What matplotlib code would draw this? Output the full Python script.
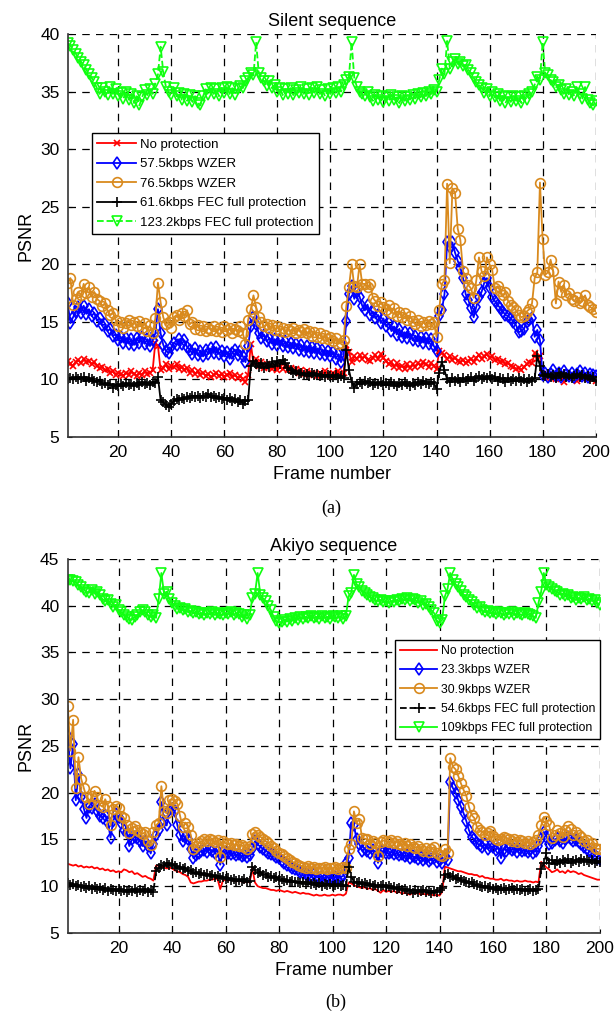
import matplotlib
matplotlib.use('Agg')
import matplotlib.pyplot as plt

plt.rcParams['font.family'] = ['Liberation Sans', 'DejaVu Sans']

frames = list(range(1, 201))

# Silent sequence
s_green = [39.2, 39.0, 38.6, 38.3, 37.9, 37.6, 37.3, 36.9, 36.5, 36.2,
           35.8, 35.3, 34.8, 35.3, 35.0, 34.7, 35.4, 34.8, 35.2, 34.6,
           34.9, 34.4, 35.0, 34.3, 34.8, 34.0, 34.6, 33.8, 34.5, 35.1,
           34.7, 35.2, 34.8, 35.7, 36.5, 38.9, 36.7, 35.4, 35.0, 34.7,
           35.3, 34.6, 34.9, 34.3, 34.8, 34.2, 34.7, 34.1, 34.6, 34.0,
           33.8, 34.6, 35.2, 34.7, 35.3, 34.8, 35.2, 34.6, 35.3, 34.9,
           35.4, 34.8, 35.3, 34.7, 35.2, 35.5, 35.3, 35.9, 36.2, 36.6,
           36.4, 39.3, 36.6, 36.2, 35.9, 35.5, 35.9, 35.3, 35.6, 35.0,
           35.3, 34.7, 35.2, 34.8, 35.3, 34.7, 35.1, 34.9, 35.4, 34.8,
           35.2, 34.7, 35.3, 34.9, 35.4, 34.8, 35.1, 34.6, 35.2, 34.8,
           35.3, 34.9, 35.4, 35.0, 35.6, 36.0, 36.3, 39.3, 36.2, 35.4,
           35.0, 34.8, 34.6, 35.0, 34.5, 34.2, 34.7, 34.3, 34.6, 34.1,
           34.5, 34.2, 34.7, 34.3, 34.5, 34.0, 34.6, 34.2, 34.5, 34.3,
           34.7, 34.4, 34.8, 34.5, 34.9, 34.6, 35.0, 34.8, 35.1, 35.0,
           36.0, 37.0, 36.5, 39.4, 37.0, 37.6, 37.8, 37.4, 37.6, 37.2,
           37.3, 36.9, 36.6, 36.2, 35.8, 35.6, 35.3, 34.9, 35.2, 34.6,
           35.0, 34.5, 34.8, 34.2, 34.6, 34.0, 34.5, 34.1, 34.6, 34.2,
           34.5, 34.0, 34.6, 34.3, 34.8, 35.0, 35.6, 36.3, 36.0, 39.3,
           36.6, 36.4, 36.0, 35.8, 35.4, 35.6, 35.1, 34.8, 35.2, 34.7,
           35.0, 34.6, 35.4, 34.8, 34.4, 35.4, 34.3, 34.0, 33.8, 34.2]

s_orange = [18.4, 18.8, 16.5, 17.0, 17.6, 17.3, 18.3, 17.5, 18.0, 17.2,
            17.6, 17.0, 16.8, 16.4, 16.6, 16.0, 15.6, 15.8, 15.2, 14.6,
            15.0, 14.5, 14.9, 15.2, 14.7, 15.0, 14.6, 15.1, 14.5, 14.9,
            14.2, 14.7, 14.0, 15.3, 18.4, 16.7, 15.4, 14.8, 15.0, 14.5,
            15.4, 15.6, 15.2, 15.8, 15.5, 16.0, 14.8, 15.0, 14.4, 14.7,
            14.3, 14.6, 14.2, 14.5, 14.3, 14.6, 14.2, 14.5, 14.1, 14.6,
            14.3, 14.5, 14.0, 14.4, 14.2, 14.6, 14.0, 13.1, 15.2, 16.1,
            17.3, 16.3, 15.4, 15.0, 14.6, 14.8, 14.5, 14.7, 14.3, 14.6,
            14.2, 14.5, 14.1, 14.4, 14.2, 14.5, 14.0, 14.3, 14.1, 14.4,
            14.0, 14.2, 13.8, 14.1, 13.7, 14.0, 13.6, 13.9, 13.5, 13.7,
            13.3, 13.6, 13.1, 13.2, 13.4, 16.4, 18.0, 20.0, 18.1, 18.0,
            20.0, 18.3, 18.3, 18.0, 18.3, 17.1, 16.8, 16.4, 16.7, 16.3,
            16.0, 16.5, 15.8, 16.2, 15.5, 15.9, 15.4, 15.8, 15.2, 15.5,
            15.1, 14.8, 15.2, 14.6, 15.0, 14.7, 15.1, 14.8, 15.0, 13.7,
            16.0, 18.3, 18.6, 27.0, 20.1, 26.6, 26.2, 23.1, 22.1, 19.4,
            18.8, 18.2, 17.9, 17.1, 18.6, 20.6, 19.4, 19.0, 20.6, 20.0,
            19.5, 17.9, 18.1, 17.7, 17.3, 17.6, 16.8, 16.5, 16.3, 16.0,
            15.6, 15.4, 15.5, 15.9, 16.1, 16.6, 18.8, 19.3, 27.1, 22.2,
            19.1, 19.3, 20.4, 19.4, 16.6, 18.5, 17.6, 18.2, 17.3, 17.5,
            17.0, 16.8, 17.2, 16.6, 16.8, 17.3, 16.5, 16.3, 16.1, 15.9]

s_blue = [16.6, 14.9, 15.4, 15.9, 16.3, 15.8, 16.4, 15.7, 16.1, 15.5,
          15.8, 15.1, 15.3, 14.7, 14.8, 14.2, 14.4, 13.8, 13.9, 13.4,
          13.7, 13.2, 13.6, 13.1, 13.5, 13.0, 13.6, 13.2, 13.7, 13.1,
          13.5, 12.9, 13.4, 14.0, 16.1, 14.0, 13.0, 12.5, 12.3, 12.8,
          13.2, 13.0, 13.5, 13.1, 13.4, 12.8, 12.6, 12.2, 12.7, 12.1,
          12.5, 12.0, 12.6, 12.2, 12.7, 12.3, 12.8, 12.2, 12.5, 12.0,
          12.4, 11.8, 12.3, 12.6, 12.1, 12.5, 12.0, 11.5, 12.9, 14.6,
          15.4, 14.8, 14.0, 13.6, 13.9, 13.3, 13.6, 13.1, 13.5, 13.0,
          13.4, 12.9, 13.3, 12.8, 13.2, 12.7, 13.1, 12.6, 13.0, 12.5,
          12.9, 12.4, 12.8, 12.3, 12.7, 12.2, 12.6, 12.1, 12.5, 12.0,
          12.4, 11.8, 12.2, 11.5, 12.1, 15.1, 17.4, 18.1, 17.0, 17.6,
          17.2, 16.4, 16.0, 16.5, 15.6, 15.9, 15.3, 15.6, 14.9, 15.3,
          14.6, 14.9, 14.2, 14.6, 13.9, 14.4, 13.7, 14.1, 13.6, 14.0,
          13.4, 13.8, 13.3, 13.7, 13.2, 13.6, 13.1, 13.5, 12.9, 12.5,
          15.5, 16.0, 17.4, 21.9, 21.5, 21.9, 21.0, 20.3, 19.7, 18.8,
          17.4, 16.9, 16.2, 15.4, 16.3, 17.2, 17.6, 18.4, 18.8, 17.9,
          17.2, 16.8, 16.5, 16.2, 15.9, 15.6, 15.5, 15.3, 15.0, 14.7,
          14.1, 14.2, 14.4, 15.0, 15.2, 15.3, 13.7, 14.3, 13.4, 10.4,
          10.6, 10.2, 10.5, 10.8, 10.3, 10.6, 10.2, 10.7, 10.4, 10.3,
          10.6, 10.2, 10.5, 10.7, 10.3, 10.6, 10.2, 10.5, 10.4, 10.3]

s_red = [11.6, 11.3, 11.2, 11.5, 11.7, 11.4, 11.8, 11.5, 11.6, 11.3,
         11.5, 11.2, 11.0, 11.1, 10.8, 10.9, 10.6, 10.7, 10.4, 10.6,
         10.5, 10.3, 10.6, 10.4, 10.7, 10.5, 10.3, 10.6, 10.4, 10.7,
         10.5, 10.6, 10.8, 13.2, 12.9, 10.8, 11.0, 11.3, 10.9, 11.2,
         11.1, 11.3, 10.9, 11.1, 10.8, 11.0, 10.6, 10.8, 10.5, 10.7,
         10.4, 10.6, 10.3, 10.5, 10.2, 10.4, 10.6, 10.3, 10.5, 10.2,
         10.4, 10.6, 10.2, 10.4, 10.1, 10.3, 10.0, 9.8, 10.4, 13.1,
         11.4, 11.8, 11.2, 11.5, 11.0, 11.3, 11.1, 10.9, 11.2, 10.8,
         11.1, 10.9, 11.2, 10.8, 11.0, 10.7, 10.9, 10.6, 10.8, 10.5,
         10.7, 10.4, 10.6, 10.5, 10.3, 10.6, 10.4, 10.7, 10.5, 10.3,
         10.6, 10.4, 10.7, 10.4, 10.6, 13.0, 12.4, 11.5, 12.0, 11.8,
         12.1, 11.8, 12.0, 11.7, 11.6, 11.9, 12.1, 11.8, 12.2, 11.9,
         11.6, 11.3, 11.5, 11.1, 11.4, 11.0, 11.2, 10.9, 11.3, 11.0,
         11.3, 11.1, 11.4, 11.2, 11.5, 11.3, 11.1, 11.4, 11.2, 10.9,
         12.5, 12.3, 12.1, 11.8, 12.0, 11.7, 11.9, 11.6, 11.5, 11.7,
         11.4, 11.6, 11.8, 11.5, 11.9, 12.1, 11.8, 12.0, 12.2, 11.9,
         12.0, 11.7, 11.8, 11.5, 11.6, 11.3, 11.4, 11.2, 11.1, 10.9,
         11.0, 10.8, 11.1, 11.3, 11.5, 11.4, 12.3, 11.8, 12.0, 10.5,
         10.2, 10.4, 10.1, 10.3, 10.0, 10.4, 10.2, 9.8, 10.3, 10.1,
         10.4, 10.2, 9.9, 10.3, 10.1, 10.4, 10.0, 10.2, 10.1, 9.9]

s_black = [10.0, 10.1, 10.0, 10.2, 10.0, 10.1, 10.2, 9.9, 10.1, 10.0,
           9.9, 9.8, 9.9, 9.6, 9.7, 9.5, 9.6, 9.3, 9.5, 9.4,
           9.6, 9.4, 9.7, 9.5, 9.6, 9.4, 9.7, 9.5, 9.8, 9.6,
           9.7, 9.5, 9.8, 9.7, 10.2, 8.2, 8.0, 7.8, 7.6, 7.9,
           8.1, 8.3, 8.2, 8.4, 8.3, 8.5, 8.4, 8.6, 8.5, 8.6,
           8.4, 8.6, 8.5, 8.7, 8.5, 8.6, 8.4, 8.5, 8.3, 8.4,
           8.2, 8.4, 8.1, 8.3, 8.0, 8.2, 7.9, 8.1, 8.2, 11.2,
           11.6, 11.3, 11.1, 11.4, 11.0, 11.3, 11.1, 11.5, 11.2, 11.6,
           11.3, 11.7, 11.4, 11.0, 10.8, 10.6, 10.7, 10.5, 10.6, 10.4,
           10.5, 10.3, 10.6, 10.4, 10.5, 10.3, 10.4, 10.2, 10.4, 10.3,
           10.2, 10.4, 10.1, 10.3, 10.1, 12.6, 10.8, 9.8, 9.3, 9.6,
           9.8, 9.6, 9.9, 9.7, 9.8, 9.5, 9.7, 9.6, 9.8, 9.5,
           9.7, 9.5, 9.8, 9.6, 9.4, 9.7, 9.5, 9.8, 9.6, 9.4,
           9.7, 9.5, 9.8, 9.6, 9.9, 9.7, 9.6, 9.8, 9.7, 9.2,
           10.6, 11.5, 10.8, 10.0, 9.8, 10.1, 9.9, 10.0, 9.8, 10.1,
           9.9, 10.0, 10.2, 9.9, 10.1, 10.3, 10.0, 10.2, 10.1, 10.3,
           10.0, 10.2, 9.9, 10.1, 10.0, 9.8, 10.1, 9.9, 10.0, 9.9,
           10.1, 9.9, 10.0, 9.8, 10.0, 9.9, 10.1, 12.0, 11.2, 10.4,
           10.3, 10.5, 10.2, 10.4, 10.1, 10.6, 10.3, 10.5, 10.2, 10.4,
           10.1, 10.3, 10.5, 10.2, 10.4, 10.1, 10.3, 10.0, 10.2, 9.9]

# Akiyo sequence
a_green = [42.8, 42.7, 42.6, 42.5, 42.2, 42.0, 41.7, 41.5, 41.4, 41.7,
           41.3, 41.5, 41.1, 40.7, 40.5, 40.6, 40.2, 39.9, 40.1, 39.5,
           39.3, 39.0, 38.8, 38.6, 38.5, 38.8, 39.0, 39.3, 39.5, 39.3,
           39.0, 38.8, 39.0, 38.7, 40.7, 43.5, 41.3, 41.5, 40.7, 40.3,
           40.0, 39.7, 39.8, 39.5, 39.6, 39.3, 39.4, 39.2, 39.3, 39.1,
           39.2, 39.0, 39.2, 39.1, 39.3, 39.0, 39.2, 39.1, 39.0, 39.2,
           39.1, 39.3, 39.0, 39.2, 39.1, 38.8, 39.0, 38.6, 39.0, 40.8,
           41.3, 43.5, 41.2, 40.8, 40.5, 40.0, 39.5, 38.8, 38.4, 38.2,
           38.3, 38.5, 38.3, 38.6, 38.4, 38.7, 38.5, 38.8, 38.6, 38.8,
           38.7, 38.9, 38.7, 38.8, 38.6, 38.9, 38.7, 38.8, 38.6, 38.9,
           38.8, 38.7, 38.9, 38.6, 38.9, 41.0, 41.4, 43.3, 42.3, 42.0,
           41.6, 41.4, 41.1, 40.9, 40.8, 40.6, 40.5, 40.6, 40.4, 40.5,
           40.3, 40.5, 40.4, 40.6, 40.5, 40.7, 40.6, 40.8, 40.5, 40.7,
           40.6, 40.3, 40.5, 40.1, 40.2, 39.9, 39.5, 39.2, 38.4, 38.2,
           38.5, 41.0, 41.8, 43.5, 42.8, 42.3, 42.0, 41.6, 41.2, 40.9,
           40.6, 40.4, 40.1, 39.8, 39.9, 39.5, 39.3, 39.4, 39.2, 39.3,
           39.1, 39.3, 39.2, 39.0, 39.2, 39.1, 39.3, 39.0, 39.2, 39.1,
           39.0, 39.2, 39.1, 39.0, 38.9, 38.7, 40.3, 41.5, 43.5, 42.2,
           42.0, 41.8, 41.6, 41.5, 41.2, 41.3, 41.0, 41.2, 40.8, 40.9,
           40.6, 40.8, 40.7, 40.9, 40.6, 40.7, 40.5, 40.6, 40.3, 40.1]

a_orange = [29.3, 24.5, 27.8, 20.5, 23.8, 21.5, 20.5, 19.5, 18.8, 19.6,
            20.2, 19.5, 18.7, 18.5, 19.3, 18.6, 16.5, 18.3, 18.6, 18.4,
            17.5, 17.3, 16.5, 15.7, 16.2, 16.4, 16.0, 15.8, 15.6, 15.8,
            14.8, 14.4, 15.8, 16.5, 16.8, 20.7, 18.0, 17.8, 19.2, 19.3,
            19.1, 18.8, 17.5, 16.3, 16.8, 16.3, 15.5, 14.0, 14.3, 14.6,
            14.8, 15.0, 14.8, 15.0, 14.9, 14.7, 14.9, 13.1, 14.8, 14.6,
            14.5, 14.6, 14.4, 14.5, 14.3, 14.4, 14.2, 14.0, 14.3, 15.6,
            15.8, 15.5, 15.3, 15.1, 14.8, 14.6, 14.3, 14.1, 13.8, 13.6,
            13.4, 13.2, 13.0, 12.8, 12.6, 12.5, 12.3, 12.2, 12.1, 12.0,
            12.2, 11.9, 12.1, 11.8, 12.0, 11.9, 12.1, 11.8, 12.0, 11.9,
            12.1, 11.8, 12.0, 12.1, 11.9, 14.0, 14.5, 18.0, 16.8, 17.2,
            15.2, 15.1, 15.0, 14.5, 14.8, 14.6, 13.2, 14.7, 14.9, 14.8,
            14.7, 14.9, 14.6, 14.8, 14.5, 14.4, 14.6, 14.3, 14.5, 14.2,
            14.1, 14.3, 14.0, 13.8, 14.1, 13.7, 14.0, 14.2, 13.6, 13.3,
            13.2, 14.0, 13.5, 23.7, 22.8, 22.5, 21.8, 21.0, 20.3, 19.7,
            18.5, 17.6, 17.3, 16.3, 16.0, 15.8, 15.5, 15.7, 15.9, 15.4,
            15.1, 14.9, 15.1, 15.3, 15.2, 15.0, 14.8, 15.0, 14.7, 14.9,
            14.8, 14.6, 14.8, 14.5, 14.7, 14.9, 15.5, 16.5, 17.4, 17.0,
            16.5, 15.2, 15.5, 16.0, 15.7, 15.3, 16.0, 16.4, 16.1, 15.5,
            15.8, 15.5, 15.3, 14.8, 14.9, 14.5, 14.6, 14.1, 14.0, 14.0]

a_blue = [26.1, 22.6, 25.2, 19.2, 22.0, 19.5, 18.3, 17.3, 18.5, 18.4,
          18.8, 18.0, 17.5, 17.3, 17.6, 16.8, 15.2, 17.0, 17.7, 17.4,
          16.8, 16.0, 15.8, 14.3, 15.0, 15.3, 15.2, 14.8, 14.3, 14.8,
          14.3, 13.5, 14.5, 15.5, 16.0, 19.0, 17.0, 16.5, 18.2, 18.3,
          18.0, 16.5, 15.5, 14.8, 15.3, 15.0, 14.0, 13.0, 13.3, 13.6,
          13.8, 13.9, 13.7, 14.0, 13.8, 13.6, 13.8, 12.3, 13.7, 13.5,
          13.6, 13.4, 13.5, 13.3, 13.4, 13.2, 13.3, 13.1, 13.3, 14.0,
          14.8, 14.5, 14.2, 14.0, 13.8, 13.6, 13.4, 13.3, 13.1, 13.0,
          12.7, 12.5, 12.3, 12.2, 12.0, 11.8, 11.7, 11.5, 11.4, 11.3,
          11.2, 11.1, 11.3, 11.0, 10.9, 11.1, 10.8, 11.0, 10.8, 10.9,
          11.0, 10.8, 11.0, 11.1, 12.5, 13.0, 16.8, 16.5, 15.0, 14.5,
          13.8, 14.0, 13.8, 13.6, 13.9, 13.7, 12.5, 13.8, 13.7, 13.6,
          13.5, 13.7, 13.4, 13.5, 13.3, 13.4, 13.2, 13.3, 13.0, 13.2,
          13.1, 12.9, 13.1, 12.8, 13.0, 12.7, 12.9, 13.0, 12.6, 12.8,
          12.5, 13.0, 12.8, 21.2, 20.5, 20.0, 19.2, 18.5, 17.8, 17.0,
          16.0, 15.3, 15.0, 14.6, 14.4, 14.2, 14.5, 14.0, 14.3, 14.2,
          13.9, 14.1, 13.0, 14.0, 13.8, 14.1, 13.9, 14.0, 13.7, 14.0,
          13.8, 13.9, 13.7, 13.9, 13.6, 13.8, 14.3, 15.0, 15.8, 15.3,
          14.5, 14.6, 14.9, 15.2, 14.8, 14.6, 15.0, 15.3, 15.0, 14.8,
          14.9, 14.7, 14.5, 14.2, 14.0, 13.8, 13.6, 13.3, 13.0, 12.9]

a_red = [12.4, 12.3, 12.2, 12.3, 12.1, 12.2, 12.0, 12.1, 12.0, 12.1,
         11.9, 12.0, 11.8, 11.9, 11.7, 11.8, 11.6, 11.7, 11.5, 11.6,
         11.5, 11.8, 11.7, 11.5, 11.6, 11.3, 11.4, 11.2, 11.0, 11.1,
         10.9, 10.8, 10.6, 12.2, 12.2, 12.1, 12.0, 11.9, 12.0, 11.9,
         11.7, 11.6, 11.5, 11.3, 11.2, 11.0, 10.4, 10.3, 10.4, 10.5,
         10.5, 10.6, 10.6, 10.7, 10.7, 10.8, 10.8, 9.7, 10.6, 10.7,
         10.6, 10.7, 10.6, 10.5, 10.6, 10.5, 10.4, 10.5, 10.4, 11.9,
         10.4, 10.0, 9.9, 9.8, 9.8, 9.7, 9.6, 9.6, 9.5, 9.6,
         9.5, 9.4, 9.5, 9.4, 9.3, 9.4, 9.3, 9.2, 9.3, 9.2,
         9.2, 9.1, 9.0, 9.1, 9.0, 9.0, 9.1, 9.0, 9.0, 9.1,
         9.0, 9.1, 9.1, 9.0, 9.2, 10.4, 10.3, 10.1, 10.0, 9.9,
         9.8, 9.9, 9.7, 9.8, 9.6, 9.7, 9.5, 9.3, 9.6, 9.4,
         9.5, 9.4, 9.5, 9.3, 9.4, 9.2, 9.3, 9.2, 9.1, 9.3,
         9.2, 9.3, 9.1, 9.2, 9.1, 9.2, 9.1, 9.0, 9.1, 9.0,
         9.4, 12.1, 12.0, 11.9, 11.8, 11.7, 11.6, 11.6, 11.5, 11.4,
         11.3, 11.3, 11.2, 11.2, 11.0, 11.1, 10.9, 10.9, 10.8, 10.8,
         10.7, 10.7, 10.8, 10.6, 10.7, 10.6, 10.6, 10.5, 10.6, 10.5,
         10.5, 10.6, 10.5, 10.5, 10.4, 10.5, 10.4, 12.6, 12.3, 12.0,
         11.8, 11.5, 11.6, 11.8, 11.5, 11.6, 11.4, 11.7, 11.5, 11.6,
         11.5, 11.3, 11.4, 11.2, 11.1, 11.0, 10.9, 10.8, 10.7, 10.7]

a_black = [10.3, 10.1, 10.2, 10.0, 10.1, 9.9, 10.0, 9.8, 10.0, 9.7,
           9.9, 9.7, 9.8, 9.6, 9.8, 9.5, 9.7, 9.6, 9.5, 9.7,
           9.5, 9.6, 9.4, 9.6, 9.5, 9.7, 9.4, 9.6, 9.5, 9.7,
           9.4, 9.6, 9.4, 11.6, 12.0, 12.3, 12.2, 12.5, 12.3, 12.4,
           12.2, 12.0, 12.1, 11.8, 11.9, 11.6, 11.7, 11.4, 11.5, 11.3,
           11.4, 11.2, 11.3, 11.1, 11.2, 11.0, 11.1, 10.9, 11.0, 10.8,
           10.9, 10.7, 10.8, 10.6, 10.7, 10.6, 10.8, 10.5, 10.6, 12.1,
           11.7, 11.4, 11.5, 11.2, 11.3, 11.0, 11.1, 10.9, 11.0, 10.7,
           10.8, 10.6, 10.7, 10.5, 10.6, 10.4, 10.5, 10.3, 10.5, 10.2,
           10.4, 10.2, 10.3, 10.1, 10.3, 10.0, 10.2, 10.1, 10.2, 10.0,
           10.1, 10.2, 10.0, 10.1, 10.0, 12.1, 11.0, 10.5, 10.3, 10.4,
           10.2, 10.3, 10.1, 10.2, 10.0, 10.1, 9.9, 10.0, 10.1, 9.9,
           10.0, 9.8, 9.9, 9.7, 9.8, 9.6, 9.7, 9.5, 9.6, 9.3,
           9.6, 9.4, 9.5, 9.6, 9.4, 9.5, 9.3, 9.5, 9.4, 9.6,
           9.8, 11.2, 11.3, 11.0, 11.1, 10.8, 10.9, 10.7, 10.6, 10.5,
           10.3, 10.4, 10.2, 10.1, 10.0, 9.9, 10.0, 9.8, 9.9, 9.7,
           9.8, 9.6, 9.7, 9.8, 9.6, 9.7, 9.8, 9.6, 9.7, 9.6,
           9.7, 9.5, 9.6, 9.7, 9.5, 9.6, 9.7, 11.8, 12.5, 13.5,
           12.5, 12.8, 12.4, 12.7, 12.5, 12.8, 12.6, 12.9, 12.5, 12.7,
           12.8, 12.6, 12.9, 12.7, 12.8, 12.6, 12.8, 12.5, 12.7, 12.6]

orange = '#D98A1E'
green = '#10FF10'

fig = plt.figure(figsize=(6.16, 10.13), dpi=100)
ax1 = fig.add_axes([0.110, 0.5686, 0.857, 0.3978])
ax2 = fig.add_axes([0.110, 0.0790, 0.864, 0.3692])

lw = 1.3
mew = 1.2
ax1.plot(frames, s_red, color='r', marker='x', ms=5, mew=mew, lw=lw, label='No protection')
ax1.plot(frames, s_blue, color='b', marker='d', ms=6, mew=mew, mfc='none', lw=lw, label='57.5kbps WZER')
ax1.plot(frames, s_orange, color=orange, marker='o', ms=7, mew=mew, mfc='none', lw=lw, label='76.5kbps WZER')
ax1.plot(frames, s_black, color='k', marker='+', ms=7, mew=mew, lw=lw, label='61.6kbps FEC full protection')
ax1.plot(frames, s_green, color=green, marker='v', ms=7, mew=mew, mfc='none', lw=lw, ls='--',
         label='123.2kbps FEC full protection')

ax2.plot(frames, a_red, color='r', lw=lw, label='No protection')
ax2.plot(frames, a_blue, color='b', marker='d', ms=6, mew=mew, mfc='none', lw=lw, label='23.3kbps WZER')
ax2.plot(frames, a_orange, color=orange, marker='o', ms=7, mew=mew, mfc='none', lw=lw, label='30.9kbps WZER')
ax2.plot(frames, a_black, color='k', marker='+', ms=7, mew=mew, lw=lw, ls='--',
         label='54.6kbps FEC full protection')
ax2.plot(frames, a_green, color=green, marker='v', ms=7, mew=mew, mfc='none', lw=lw,
         label='109kbps FEC full protection')

for ax, top in ((ax1, 40), (ax2, 45)):
    ax.set_xlim(1, 200)
    ax.set_ylim(5, top)
    ax.set_xticks(range(20, 201, 20))
    ax.set_yticks(range(5, top + 1, 5))
    ax.grid(True, color='k', linestyle=(0, (6, 5)), linewidth=0.9)
    ax.set_axisbelow(True)
    ax.spines['top'].set_visible(False)
    ax.spines['right'].set_visible(False)
    ax.spines['left'].set_color('#333333')
    ax.spines['bottom'].set_color('#333333')
    ax.spines['left'].set_linewidth(1.2)
    ax.spines['bottom'].set_linewidth(1.2)
    ax.tick_params(direction='in', length=3, labelsize=12.5, pad=6)
    ax.set_xlabel('Frame number', fontsize=13)
    ax.set_ylabel('PSNR', fontsize=13)

ax1.set_title('Silent sequence', fontsize=13)
ax2.set_title('Akiyo sequence', fontsize=13)

leg1 = ax1.legend(loc='upper left', bbox_to_anchor=(0.045, 0.754), fontsize=9.5,
                  fancybox=False, edgecolor='k', framealpha=1, handlelength=3,
                  borderaxespad=0, labelspacing=0.55, handletextpad=0.3)
leg1.get_frame().set_linewidth(1.0)
leg2 = ax2.legend(loc='upper right', bbox_to_anchor=(1.0, 0.783), fontsize=8.8,
                  fancybox=False, edgecolor='k', framealpha=1, handlelength=3,
                  borderaxespad=0, labelspacing=0.6, handletextpad=0.3)
leg2.get_frame().set_linewidth(1.0)

fig.text(0.538, 1 - 508 / 1013, '(a)', ha='center', va='center', fontsize=13,
         family='Liberation Serif')
fig.text(0.545, 1 - 1002 / 1013, '(b)', ha='center', va='center', fontsize=13,
         family='Liberation Serif')

fig.savefig('out.png', dpi=100)
